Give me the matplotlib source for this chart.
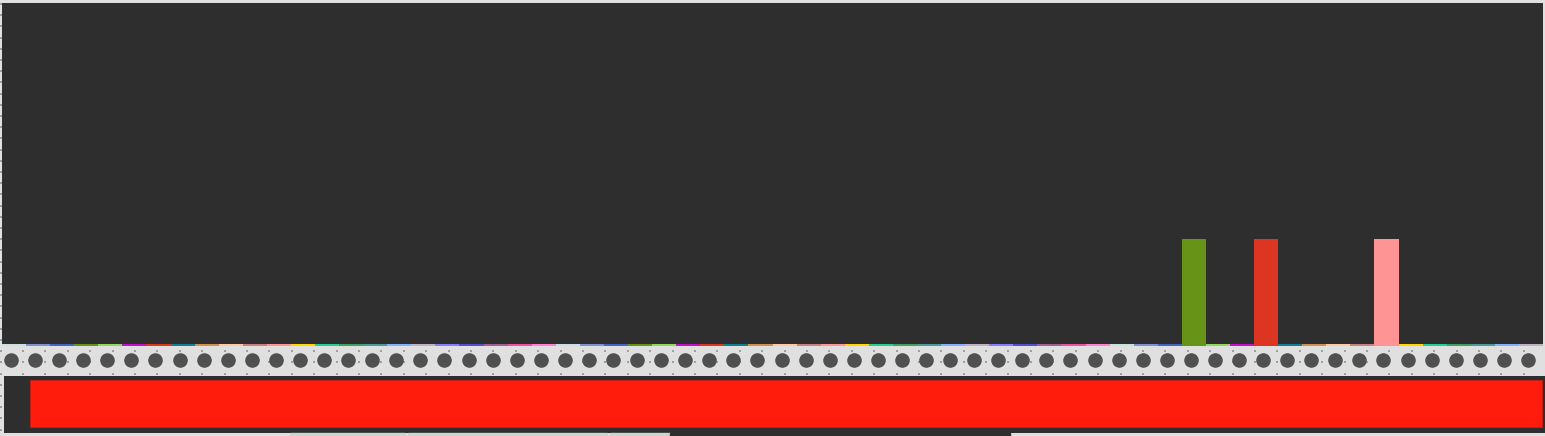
import numpy as np
import matplotlib
matplotlib.use("Agg")
import matplotlib.pyplot as plt
from matplotlib.patches import Rectangle

# ---- data ----
n_items = 64
palette = ['#c8e0e0', '#7f8fcf', '#4464c4', '#679416', '#90d858', '#c010c8',
           '#dc3522', '#107f8f', '#d09050', '#ffc8a0', '#c88080', '#ff9494',
           '#ffd700', '#20d090', '#40a060', '#4a9a9a', '#80b0ff', '#c0b0c0',
           '#8080ff', '#5050d0', '#a06090', '#f050a0', '#ff80d0']
values = [0.015] * n_items
values[49] = 1.0
values[52] = 1.0
values[57] = 1.0
total = [1.0]          # single bar in the lower panel

W, H = 1545, 436
BG = '#e0e0e0'
DARK = '#2e2e2e'

fig = plt.figure(figsize=(W / 100, H / 100), dpi=100, facecolor=BG)

# dotted canvas behind everything
bg = fig.add_axes([0, 0, 1, 1], zorder=0)
bg.set_xlim(0, W)
bg.set_ylim(H, 0)
bg.axis('off')
gx, gy = np.meshgrid(np.arange(0.5, W, 22.4), np.arange(4.0, H, 11.2))
bg.scatter(gx.ravel(), gy.ravel(), s=0.6, c='#a0a0a0', marker='s', linewidths=0)

def px_axes(x0, y0, x1, y1, **kw):
    # axes from pixel box (top-left origin)
    return fig.add_axes([x0 / W, 1 - y1 / H, (x1 - x0) / W, (y1 - y0) / H], **kw)

# ---- top panel: bars ----
ax = px_axes(2, 3, 1543, 346, zorder=1)
ax.set_facecolor(DARK)
colors = [palette[i % len(palette)] for i in range(n_items)]
ax.bar(np.arange(n_items), values, width=1.0, align='edge', color=colors, linewidth=0)
ax.set_xlim(0, n_items)
ax.set_ylim(0, 3.2)
ax.set_xticks([])
ax.set_yticks([])
for s in ax.spines.values():
    s.set_visible(False)

# ---- strip of circles ----
strip = px_axes(2, 346, 1543, 376, zorder=1)
strip.patch.set_alpha(0)
strip.scatter(np.arange(n_items) + 0.5 - 0.125, np.zeros(n_items), s=110,
              c='#505050', linewidths=0)
strip.set_xlim(0, n_items)
strip.set_ylim(-1.05, 0.95)
strip.axis('off')

# ---- lower panel: total bar ----
low = px_axes(4, 376, 1545, 433, zorder=1)
low.set_facecolor(DARK)
low.barh([0], total, height=1.0, left=0, color='#ff1c0c',
         edgecolor='#d01a10', linewidth=0.5)
low.set_xlim(-26 / 1512, 1 + 3 / 1512)
low.set_ylim(-0.62, 0.58)
low.set_xticks([])
low.set_yticks([])
for s in low.spines.values():
    s.set_visible(False)

# bits of the next row peeking in at the bottom edge
for x0, x1, col in [(290, 405, '#c8d8d0'), (408, 607, '#c8d8d0'),
                    (610, 670, '#c8d8d0'), (670, 1010, DARK)]:
    fig.patches.append(Rectangle((x0 / W, 0), (x1 - x0) / W, 3 / H,
                                 transform=fig.transFigure, color=col, zorder=2))

fig.savefig('out.png', dpi=100, facecolor=BG)
